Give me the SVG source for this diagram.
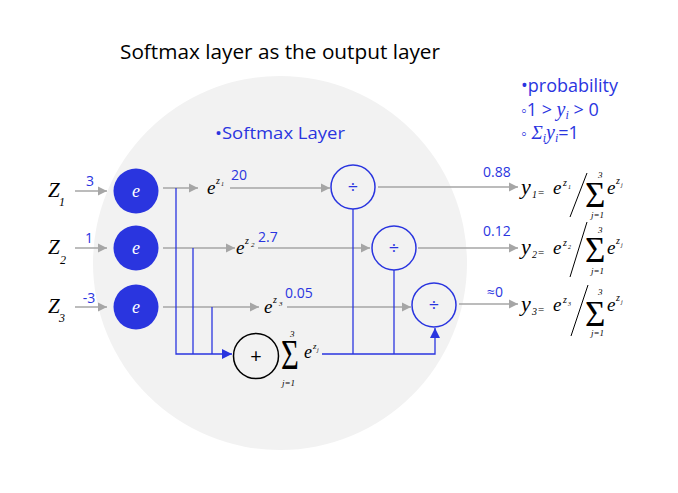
<svg xmlns="http://www.w3.org/2000/svg" width="678" height="493" viewBox="0 0 678 493">
<style>
.sans{font-family:"Open Sans","Noto Sans","Liberation Sans",sans-serif}
.math{font-family:"Liberation Serif","DejaVu Serif",serif;font-style:italic}
.blue{fill:#2a35df}
.g{stroke:#a6a6a6;stroke-width:1.5;fill:none;marker-end:url(#ga)}
.b{stroke:#2a35df;stroke-width:1.3;fill:none}
.enode{fill:#2a35df}
.div{fill:none;stroke:#2a35df;stroke-width:1.5}
.lbl{font-size:14px}
.sig{font-family:"Liberation Serif","DejaVu Serif",serif;font-style:normal;fill:#000}
</style>
<defs>
<marker id="ga" markerUnits="userSpaceOnUse" markerWidth="10" markerHeight="10" refX="9" refY="5" orient="auto"><path d="M0,0.5 L9,5 L0,9.5 z" fill="#a6a6a6"/></marker>
<marker id="ba" markerUnits="userSpaceOnUse" markerWidth="12" markerHeight="12" refX="10" refY="5.5" orient="auto"><path d="M0,0.5 L10,5.5 L0,10.5 z" fill="#2a35df"/></marker>
</defs>
<rect width="678" height="493" fill="#ffffff"/>
<circle id="layer-bg" cx="280" cy="263" r="187" fill="#f2f2f2"/>
<text class="sans" x="120" y="59" font-size="20" textLength="320" lengthAdjust="spacingAndGlyphs" fill="#000">Softmax layer as the output layer</text>
<text class="sans blue" x="215" y="139" font-size="17" textLength="130" lengthAdjust="spacingAndGlyphs">•Softmax Layer</text>

<g id="notes" class="sans blue" font-size="18">
<text x="521" y="92">•probability</text>
<text x="521" y="116"><tspan font-size="16">◦</tspan>1 &gt; <tspan class="math" font-size="20">y</tspan><tspan class="math" font-size="12" dy="3">i</tspan><tspan dy="-3"> &gt; 0</tspan></text>
<text x="521" y="139"><tspan font-size="16">◦</tspan><tspan class="math" font-size="19"> Σ</tspan><tspan class="math" font-size="12" dy="3">i</tspan><tspan class="math" font-size="20" dy="-3">y</tspan><tspan class="math" font-size="12" dy="3">i</tspan><tspan dy="-3">=1</tspan></text>
</g>

<g id="connectors">
<line class="g" x1="75" y1="191" x2="107" y2="191"/>
<line class="g" x1="75" y1="248" x2="107" y2="248"/>
<line class="g" x1="75" y1="307" x2="107" y2="307"/>
<line class="g" x1="163" y1="188" x2="198" y2="188"/>
<line class="g" x1="230" y1="188" x2="330" y2="188"/>
<line class="g" x1="378" y1="187" x2="518" y2="187"/>
<line class="g" x1="163" y1="248" x2="235" y2="248"/>
<line class="g" x1="258" y1="248" x2="370" y2="248"/>
<line class="g" x1="418" y1="248" x2="518" y2="248"/>
<line class="g" x1="163" y1="307" x2="259" y2="307"/>
<line class="g" x1="287" y1="307" x2="411" y2="307"/>
<line class="g" x1="459" y1="304" x2="518" y2="304"/>
<polyline class="b" points="176,188 176,354 232,354" marker-end="url(#ba)"/>
<line class="b" x1="193" y1="248" x2="193" y2="354"/>
<line class="b" x1="212" y1="307" x2="212" y2="354"/>
<polyline class="b" points="322,354 435,354 435,328" marker-end="url(#ba)"/>
<line class="b" x1="353" y1="209" x2="353" y2="354"/>
<line class="b" x1="394" y1="270" x2="394" y2="354"/>
</g>

<g id="inputs" class="math" fill="#000">
<text x="48" y="197" font-size="21">Z</text><text x="59" y="206" font-size="12">1</text>
<text x="48" y="254" font-size="21">Z</text><text x="60" y="264" font-size="12">2</text>
<text x="48" y="313" font-size="21">Z</text><text x="59" y="322" font-size="12">3</text>
</g>
<g id="input-values" class="sans blue lbl" text-anchor="middle">
<text x="90" y="186">3</text>
<text x="89" y="243">1</text>
<text x="89" y="303">-3</text>
</g>

<g id="exp1"><circle class="enode" cx="136" cy="191" r="22.5"/><text class="math" x="136" y="197" font-size="18" fill="#fff" text-anchor="middle">e</text></g>
<g id="exp2"><circle class="enode" cx="136" cy="248" r="22.5"/><text class="math" x="136" y="254" font-size="18" fill="#fff" text-anchor="middle">e</text></g>
<g id="exp3"><circle class="enode" cx="136" cy="307" r="22.5"/><text class="math" x="136" y="313" font-size="18" fill="#fff" text-anchor="middle">e</text></g>

<g id="ez1" class="math" fill="#000"><text x="207" y="194" font-size="19">e</text><text x="216" y="184" font-size="10">z</text><text x="221" y="186" font-size="6">1</text></g>
<g id="ez2" class="math" fill="#000"><text x="236" y="254" font-size="19">e</text><text x="245" y="244" font-size="10">z</text><text x="251" y="247" font-size="7">2</text></g>
<g id="ez3" class="math" fill="#000"><text x="264" y="313" font-size="19">e</text><text x="273" y="303" font-size="10">z</text><text x="279" y="306" font-size="7">3</text></g>

<g id="values" class="sans blue lbl">
<text x="231" y="180">20</text>
<text x="258" y="242">2.7</text>
<text x="285" y="298">0.05</text>
<text x="483" y="177">0.88</text>
<text x="483" y="236">0.12</text>
<text x="487" y="297">≈0</text>
</g>

<g id="div1"><circle class="div" cx="353" cy="187" r="22"/><text class="sans blue" x="353" y="193" font-size="18" text-anchor="middle">÷</text></g>
<g id="div2"><circle class="div" cx="394" cy="248" r="22"/><text class="sans blue" x="394" y="254" font-size="18" text-anchor="middle">÷</text></g>
<g id="div3"><circle class="div" cx="434" cy="305" r="22"/><text class="sans blue" x="434" y="311" font-size="18" text-anchor="middle">÷</text></g>

<g id="sum">
<circle cx="256" cy="356" r="22.5" fill="none" stroke="#000" stroke-width="1.5"/>
<text class="sans" x="256" y="363" font-size="20" text-anchor="middle" fill="#000">+</text>
<text class="sig" x="0" y="0" font-size="36" transform="translate(281,369) scale(0.85,1.15)">Σ</text>
<text class="math" x="290" y="337" font-size="9" fill="#000">3</text>
<text class="math" x="282" y="386" font-size="9" fill="#000">j=1</text>
<text class="math" x="304" y="358" font-size="18" fill="#000">e</text>
<text class="math" x="313" y="349" font-size="9" fill="#000">z</text><text class="math" x="317" y="352" font-size="6" fill="#000">j</text>
</g>

<g id="out1" class="math" fill="#000">
<text x="521" y="194" font-size="22">y</text><text x="532" y="198" font-size="10">1</text><text x="538" y="196" font-size="11" font-style="normal">=</text>
<text x="553" y="194" font-size="19">e</text><text x="563" y="186" font-size="10">z</text><text x="568" y="189" font-size="6">1</text>
<line x1="587" y1="173" x2="570" y2="217" stroke="#000" stroke-width="1"/>
<text class="sig" x="585" y="207" font-size="35">Σ</text>
<text x="598" y="178" font-size="9">3</text>
<text x="591" y="218" font-size="9">j=1</text>
<text x="607" y="194" font-size="19">e</text><text x="616" y="184" font-size="10">z</text><text x="621" y="187" font-size="6">j</text>
</g>
<g id="out2" class="math" fill="#000">
<text x="521" y="254" font-size="22">y</text><text x="532" y="258" font-size="10">2</text><text x="538" y="256" font-size="11" font-style="normal">=</text>
<text x="553" y="254" font-size="19">e</text><text x="563" y="246" font-size="10">z</text><text x="568" y="249" font-size="6">2</text>
<line x1="587" y1="222" x2="570" y2="277" stroke="#000" stroke-width="1"/>
<text class="sig" x="585" y="262" font-size="35">Σ</text>
<text x="598" y="233" font-size="9">3</text>
<text x="591" y="274" font-size="9">j=1</text>
<text x="607" y="254" font-size="19">e</text><text x="616" y="244" font-size="10">z</text><text x="621" y="247" font-size="6">j</text>
</g>
<g id="out3" class="math" fill="#000">
<text x="521" y="311" font-size="22">y</text><text x="532" y="315" font-size="10">3</text><text x="538" y="313" font-size="11" font-style="normal">=</text>
<text x="553" y="311" font-size="19">e</text><text x="563" y="303" font-size="10">z</text><text x="568" y="306" font-size="6">3</text>
<line x1="588" y1="285" x2="571" y2="336" stroke="#000" stroke-width="1"/>
<text class="sig" x="585" y="326" font-size="35">Σ</text>
<text x="598" y="295" font-size="9">3</text>
<text x="591" y="336" font-size="9">j=1</text>
<text x="607" y="311" font-size="19">e</text><text x="616" y="301" font-size="10">z</text><text x="621" y="304" font-size="6">j</text>
</g>
</svg>
